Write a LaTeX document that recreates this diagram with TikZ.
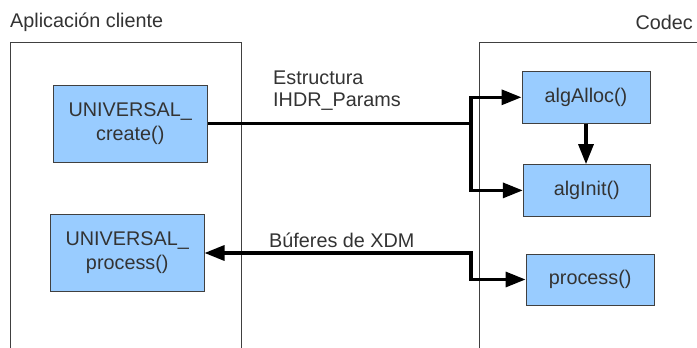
\documentclass[tikz,border=0pt]{standalone}
\usepackage{fontspec}
\setmainfont{Liberation Sans}
\usetikzlibrary{arrows.meta}
\definecolor{boxfill}{HTML}{99CCFF}
\definecolor{boxline}{HTML}{404040}
\definecolor{txt}{HTML}{333333}
\begin{document}
\begin{tikzpicture}[x=1pt,y=-1pt,
  fn/.style={draw=boxline,line width=1pt,fill=boxfill,text=txt,align=center,
    inner sep=0pt,font=\fontsize{19.8}{24}\selectfont},
  lbl/.style={text=txt,inner sep=0pt,font=\fontsize{19.8}{22}\selectfont},
  frame/.style={draw=black!75,line width=0.8pt},
  arr/.style={draw=black,line width=3.3pt,-{Triangle[length=20pt,width=15pt]}}]
\useasboundingbox (0,0) rectangle (697,348);
\fill[white] (0,0) rectangle (697,348);
% containers
\draw[frame] (10,350) -- (10,42) -- (241,42) -- (241,350);
\draw[frame] (479,350) -- (479,42) -- (700,42);
\node[lbl,anchor=west] (tapp) at (10,22) {Aplicación cliente};
\node[lbl,anchor=east] (tcodec) at (693,22.5) {Codec};
% client functions
\node[fn,minimum width=153.5pt,minimum height=77pt] (ucreate) at (130.25,123.5) {UNIVERSAL\_\\create()};
\node[fn,minimum width=153.5pt,minimum height=77pt] (uproc) at (127.25,253) {UNIVERSAL\_\\process()};
% codec functions
\node[fn,minimum width=128pt,minimum height=51.5pt] (alloc) at (586,97.3) {algAlloc()};
\node[fn,minimum width=127pt,minimum height=51.5pt] (init) at (586.8,190.4) {algInit()};
\node[fn,minimum width=128.3pt,minimum height=51pt] (cproc) at (590.2,279.5) {process()};
% connectors
\coordinate (j1) at (471,123.5);
\coordinate (j2) at (471,253);
\draw[arr] (ucreate.east) -- (j1) |- (alloc.west);
\draw[arr] (j1) |- (init.west);
\draw[arr,{Triangle[length=20pt,width=15pt]}-{Triangle[length=20pt,width=15pt]}] (uproc.east) -- (j2) |- (cproc.west);
\draw[arr] (alloc.south) -- (alloc.south |- init.north);
% connector labels
\node[lbl,anchor=west,align=left] (lparams) at (273,91) {Estructura\\IHDR\_Params};
\node[lbl,anchor=west] (lbuf) at (269,240) {Búferes de XDM};
\end{tikzpicture}
\end{document}
